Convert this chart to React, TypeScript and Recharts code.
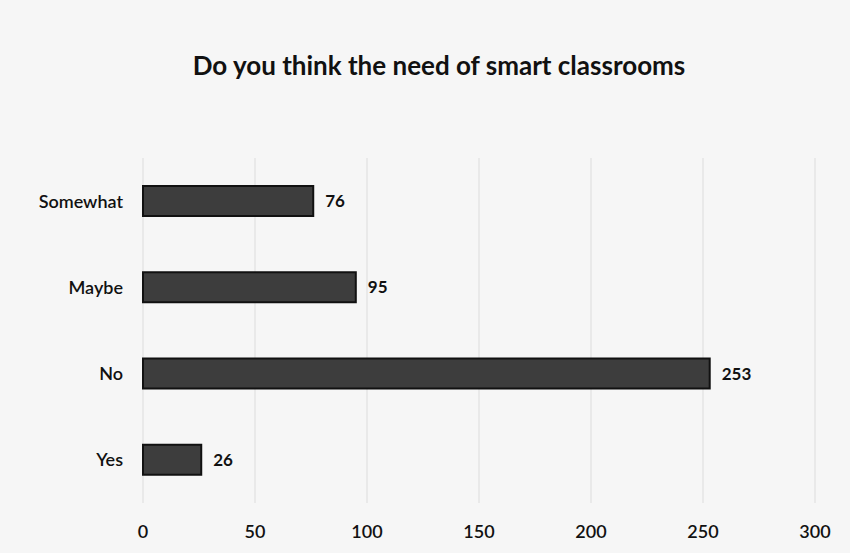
import React from "react";
import { BarChart, Bar, XAxis, YAxis, CartesianGrid, LabelList } from "recharts";

const categories = ["Somewhat", "Maybe", "No", "Yes"];
const counts = [76, 95, 253, 26];
const xTicks = [0, 50, 100, 150, 200, 250, 300];

const data = categories.map((name, i) => ({ name, value: counts[i] }));

const font = "Lato, 'Open Sans', sans-serif";

export default function App() {
	return (
		<div style={{ position: "absolute", left: 0, top: 0, width: 850, height: 553, background: "#f6f6f6", fontFamily: font }}>
			<div style={{ position: "absolute", top: 49, left: 14, width: 850, textAlign: "center", fontSize: 26, fontWeight: 700, color: "#111" }}>
				Do you think the need of smart classrooms
			</div>
			<BarChart
				width={850}
				height={553}
				data={data}
				layout="vertical"
				margin={{ top: 158, right: 35, bottom: 0, left: 10 }}
			>
				<CartesianGrid horizontal={false} stroke="#dcdcdc" />
				<XAxis
					type="number"
					domain={[0, 300]}
					ticks={xTicks}
					axisLine={false}
					tickLine={false}
					tickMargin={16}
					height={50}
					tick={{ fill: "#111", fontSize: 18, fontWeight: 600, fontFamily: font }}
				/>
				<YAxis
					type="category"
					dataKey="name"
					width={133}
					axisLine={false}
					tickLine={false}
					tickMargin={14}
					tick={{ fill: "#111", fontSize: 18, fontWeight: 600, fontFamily: font }}
				/>
				<Bar dataKey="value" fill="#3d3d3d" stroke="#111" strokeWidth={2} barSize={30} isAnimationActive={false}>
					<LabelList dataKey="value" position="right" offset={12} fill="#111" fontSize={17} fontWeight={700} fontFamily={font} />
				</Bar>
			</BarChart>
		</div>
	);
}
